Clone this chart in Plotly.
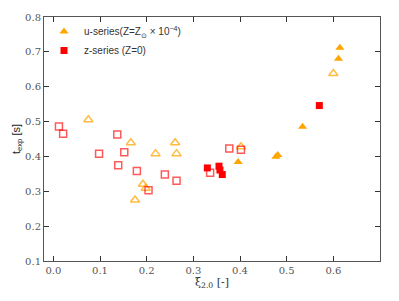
import plotly.graph_objects as go

# u-series (orange triangles)
u_filled_x = [0.396, 0.477, 0.481, 0.534, 0.611, 0.614]
u_filled_y = [0.384, 0.399, 0.404, 0.485, 0.680, 0.712]
u_open_x = [0.075, 0.166, 0.219, 0.261, 0.264, 0.192, 0.198, 0.175, 0.402, 0.600]
u_open_y = [0.505, 0.439, 0.408, 0.439, 0.408, 0.320, 0.309, 0.275, 0.428, 0.638]

# z-series (red squares)
z_filled_x = [0.330, 0.355, 0.357, 0.362, 0.570]
z_filled_y = [0.367, 0.372, 0.361, 0.348, 0.546]
z_open_x = [0.012, 0.021, 0.137, 0.098, 0.152, 0.139, 0.179, 0.239, 0.204, 0.264, 0.336, 0.377, 0.402]
z_open_y = [0.486, 0.465, 0.463, 0.408, 0.412, 0.375, 0.358, 0.348, 0.303, 0.330, 0.353, 0.423, 0.419]

x_ticks = [0.0, 0.1, 0.2, 0.3, 0.4, 0.5, 0.6]
y_ticks = [0.1, 0.2, 0.3, 0.4, 0.5, 0.6, 0.7, 0.8]

ORANGE = "#FFA500"
RED = "#FF0000"

fig = go.Figure()
fig.add_trace(go.Scatter(
    x=u_open_x, y=u_open_y, mode="markers", showlegend=False,
    marker=dict(symbol="triangle-up-open", size=8, color="rgba(255,165,0,0.75)",
                line=dict(width=1.5, color="rgba(255,165,0,0.75)"))))
fig.add_trace(go.Scatter(
    x=z_open_x, y=z_open_y, mode="markers", showlegend=False,
    marker=dict(symbol="square-open", size=7, color="rgba(255,0,0,0.65)",
                line=dict(width=1.5, color="rgba(255,0,0,0.65)"))))
fig.add_trace(go.Scatter(
    x=u_filled_x, y=u_filled_y, mode="markers",
    name="u-series(Z=Z<sub>⊙</sub> × 10<sup>−4</sup>)",
    marker=dict(symbol="triangle-up", size=8, color=ORANGE, line=dict(width=0))))
fig.add_trace(go.Scatter(
    x=z_filled_x, y=z_filled_y, mode="markers",
    name="z-series (Z=0)",
    marker=dict(symbol="square", size=7, color=RED, line=dict(width=0))))

axis_common = dict(
    showline=True, linecolor="#555555", linewidth=1, mirror="allticks",
    ticks="inside", ticklen=5, tickcolor="#333333", tickwidth=1,
    showgrid=False, zeroline=False, automargin=False,
    tickfont=dict(family="DejaVu Serif", size=10, color="#555555"),
)

fig.update_xaxes(range=[-0.02, 0.7], tickvals=x_ticks,
                 ticktext=[f"{v:.1f}" for v in x_ticks],
                 title=dict(text="ξ<sub>2.0</sub> [-]", standoff=2,
                            font=dict(family="DejaVu Serif", size=11, color="#333333")),
                 **axis_common)
fig.update_yaxes(range=[0.1, 0.8], tickvals=y_ticks,
                 ticktext=[f"{v:.1f}" for v in y_ticks],
                 title=dict(text="t<sub>exp</sub> [s]", standoff=2,
                            font=dict(family="Liberation Sans", size=11, color="#222222")),
                 **axis_common)

fig.update_layout(
    width=399, height=301,
    margin=dict(l=44, r=19, t=17, b=40, autoexpand=False),
    plot_bgcolor="white", paper_bgcolor="white",
    legend=dict(x=0.0, y=1.0, xanchor="left", yanchor="top",
                bgcolor="rgba(0,0,0,0)", borderwidth=0,
                font=dict(family="Liberation Sans", size=10, color="#333333"),
                tracegroupgap=0, itemwidth=30),
)

fig.write_html("out.html", config={"displayModeBar": False},
               post_script="document.body.style.margin='0';")
